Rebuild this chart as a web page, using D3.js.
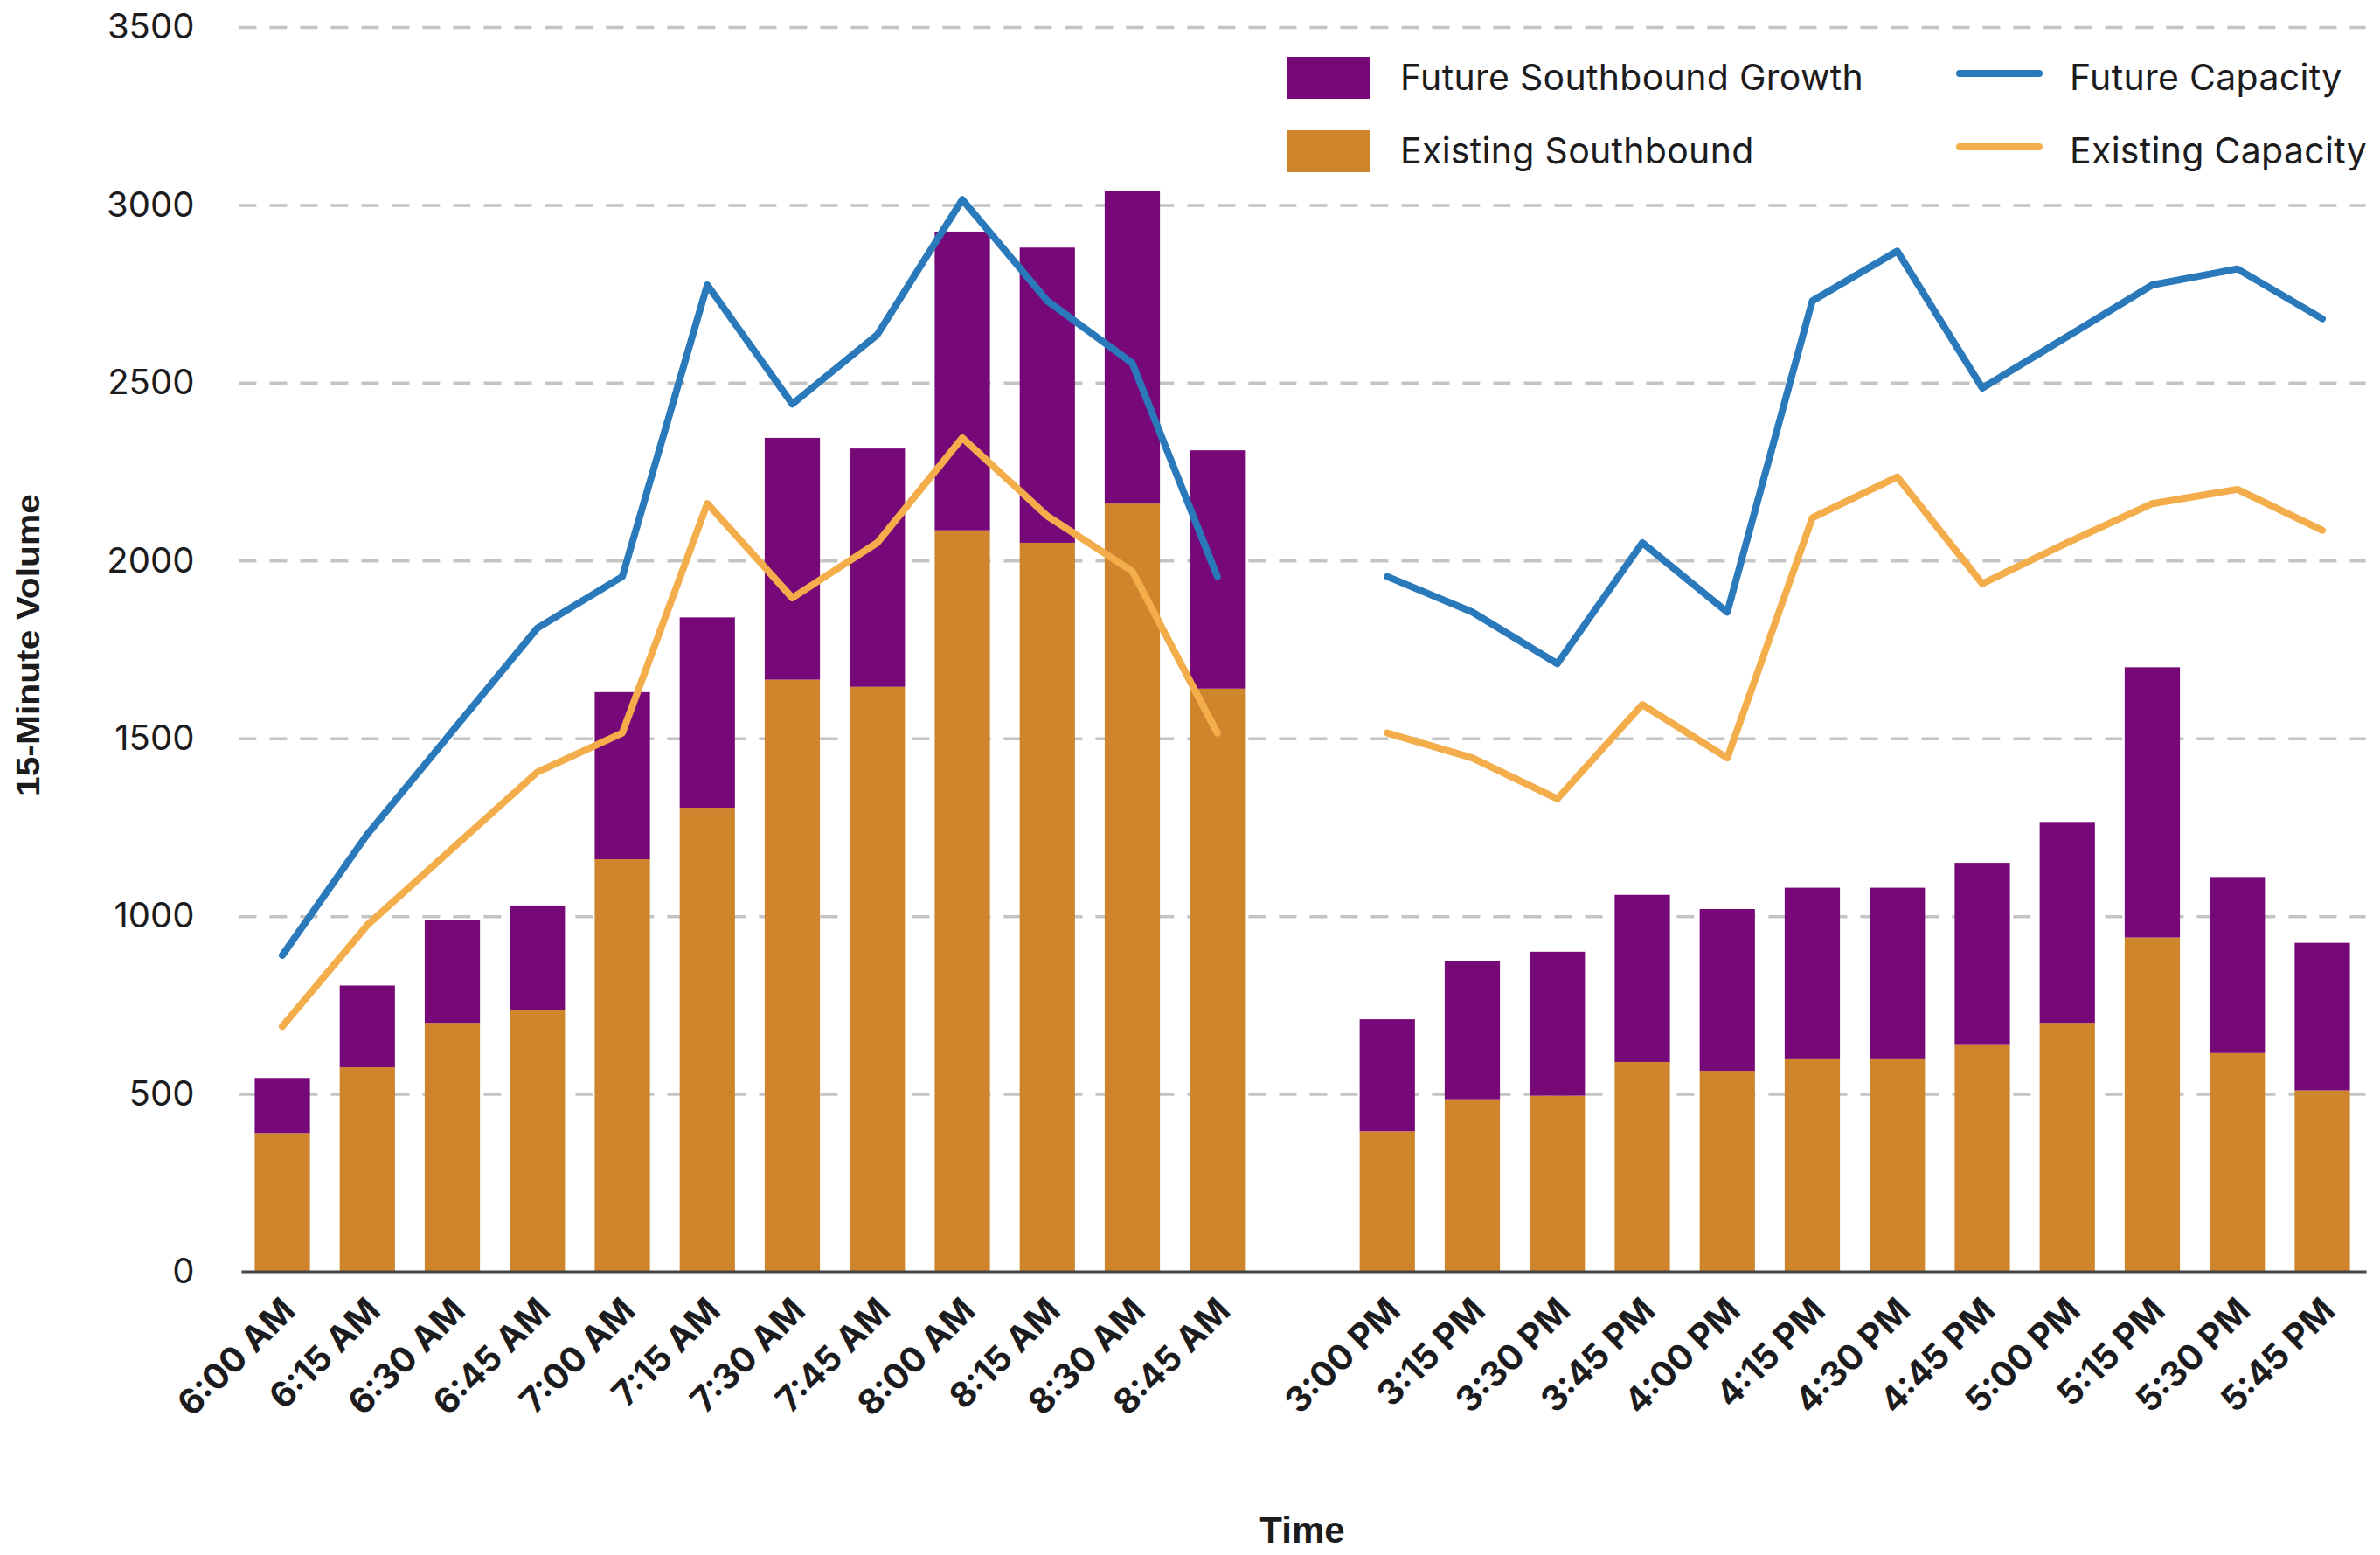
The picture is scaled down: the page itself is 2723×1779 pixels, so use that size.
<!DOCTYPE html>
<html>
<head>
<meta charset="utf-8">
<script src="https://cdn.jsdelivr.net/npm/d3@7"></script>
<style>
  html, body { margin: 0; padding: 0; background: #ffffff; }
  svg { display: block; }
</style>
</head>
<body>
<svg id="chart" width="2723" height="1779"></svg>
<script>
// 15-minute southbound volumes for the morning and evening peaks
const morningTimes = ["6:00 AM", "6:15 AM", "6:30 AM", "6:45 AM", "7:00 AM", "7:15 AM",
                      "7:30 AM", "7:45 AM", "8:00 AM", "8:15 AM", "8:30 AM", "8:45 AM"];
const eveningTimes = ["3:00 PM", "3:15 PM", "3:30 PM", "3:45 PM", "4:00 PM", "4:15 PM",
                      "4:30 PM", "4:45 PM", "5:00 PM", "5:15 PM", "5:30 PM", "5:45 PM"];

const existingMorning = [390, 575, 700, 735, 1160, 1305, 1665, 1645, 2085, 2050, 2160, 1640];
const growthMorning   = [155, 230, 290, 295, 470, 535, 680, 670, 840, 830, 880, 670];
const existingEvening = [395, 485, 495, 590, 565, 600, 600, 640, 700, 940, 615, 510];
const growthEvening   = [315, 390, 405, 470, 455, 480, 480, 510, 565, 760, 495, 415];

const futureCapMorning   = [890, 1230, 1520, 1810, 1955, 2775, 2440, 2635, 3015, 2730, 2555, 1955];
const existingCapMorning = [690, 975, 1190, 1405, 1515, 2160, 1895, 2050, 2345, 2125, 1970, 1515];
const futureCapEvening   = [1955, 1855, 1710, 2050, 1855, 2730, 2870, 2485, 2630, 2775, 2820, 2680];
const existingCapEvening = [1515, 1445, 1330, 1595, 1445, 2120, 2235, 1935, 2050, 2160, 2200, 2085];

const yTicks = [0, 500, 1000, 1500, 2000, 2500, 3000, 3500];

const barLegend  = ["Future Southbound Growth", "Existing Southbound"];
const lineLegend = ["Future Capacity", "Existing Capacity"];

// ---- styling ----
const COLORS = {
  growth: "#760878",
  existing: "#cf852b",
  futureCap: "#2a7abb",
  existingCap: "#f4ad4b",
  grid: "#c4c4c4",
  axis: "#444444",
  text: "#1c1c1e"
};
const TICK_FONT = "Inter, 'Open Sans', Lato, sans-serif";
const TITLE_FONT = "'Liberation Sans', Arial, sans-serif";

// ---- build rows ----
const GAP = "__gap__";
const slots = [...morningTimes, GAP, ...eveningTimes];

function rows(times, existing, growth, futureCap, existingCap, period) {
  return times.map((t, i) => ({
    time: t, period,
    existing: existing[i], growth: growth[i],
    futureCap: futureCap[i], existingCap: existingCap[i]
  }));
}
const data = [
  ...rows(morningTimes, existingMorning, growthMorning, futureCapMorning, existingCapMorning, "am"),
  ...rows(eveningTimes, existingEvening, growthEvening, futureCapEvening, existingCapEvening, "pm")
];

// ---- scales ----
const svg = d3.select("#chart");
const plotLeft = 274.4, plotRight = 2705.6;
const x = d3.scaleBand().domain(slots).range([plotLeft, plotRight])
  .paddingInner(0.35).paddingOuter(0.175);
const y = d3.scaleLinear().domain([0, 3500]).range([1455, 31]);
const cx = d => x(d.time) + x.bandwidth() / 2;

// ---- gridlines + y tick labels ----
const yAxis = svg.append("g")
  .attr("transform", `translate(${plotLeft - 1},0)`)
  .call(d3.axisLeft(y).tickValues(yTicks).tickFormat(d3.format("d"))
    .tickSize(-(plotRight - plotLeft + 2)).tickPadding(51));
yAxis.select(".domain").remove();
yAxis.selectAll(".tick line")
  .attr("stroke", COLORS.grid)
  .attr("stroke-width", 3.5)
  .attr("stroke-dasharray", "20 15")
  .attr("opacity", d => d === 0 ? 0 : 1);
yAxis.selectAll(".tick text")
  .attr("fill", COLORS.text)
  .attr("font-family", TICK_FONT)
  .attr("font-size", 40)
  .attr("font-weight", 400);

// ---- stacked bars ----
const stack = d3.stack().keys(["existing", "growth"]);
const layers = stack(data);
const barColor = { existing: COLORS.existing, growth: COLORS.growth };
svg.append("g").selectAll("g")
  .data(layers)
  .join("g")
  .attr("fill", l => barColor[l.key])
  .selectAll("rect")
  .data(l => l)
  .join("rect")
  .attr("x", d => x(d.data.time))
  .attr("width", x.bandwidth())
  .attr("y", d => y(d[1]))
  .attr("height", d => y(d[0]) - y(d[1]));

// ---- capacity lines (separate morning / evening segments) ----
const lineSeries = [
  { key: "futureCap", color: COLORS.futureCap },
  { key: "existingCap", color: COLORS.existingCap }
];
const lineGroup = svg.append("g");
lineSeries.forEach(s => {
  ["am", "pm"].forEach(p => {
    const seg = data.filter(d => d.period === p);
    lineGroup.append("path")
      .datum(seg)
      .attr("fill", "none")
      .attr("stroke", s.color)
      .attr("stroke-width", 8)
      .attr("stroke-linejoin", "round")
      .attr("stroke-linecap", "round")
      .attr("d", d3.line().x(cx).y(d => y(d[s.key])));
  });
});

// ---- x axis ----
const xAxis = svg.append("g")
  .attr("transform", `translate(0,${y(0)})`)
  .call(d3.axisBottom(x).tickValues([...morningTimes, ...eveningTimes]).tickSize(0));
xAxis.select(".domain").remove();
xAxis.append("line")
  .attr("x1", plotLeft + 2).attr("x2", plotRight + 2)
  .attr("y1", 0).attr("y2", 0)
  .attr("stroke", COLORS.axis).attr("stroke-width", 3);
xAxis.selectAll(".tick text")
  .attr("x", 0).attr("y", 0).attr("dy", 0)
  .attr("text-anchor", "end")
  .attr("transform", "translate(17,47) rotate(-45)")
  .attr("fill", COLORS.text)
  .attr("font-family", TICK_FONT)
  .attr("font-size", 40)
  .attr("font-weight", 700);

// ---- axis titles ----
svg.append("text")
  .attr("transform", "translate(45,738) rotate(-90)")
  .attr("text-anchor", "middle")
  .attr("font-family", TITLE_FONT)
  .attr("font-weight", 700)
  .attr("font-size", 37)
  .attr("textLength", 346)
  .attr("lengthAdjust", "spacingAndGlyphs")
  .attr("fill", COLORS.text)
  .text("15-Minute Volume");

svg.append("text")
  .attr("x", (plotLeft + plotRight) / 2)
  .attr("y", 1765)
  .attr("text-anchor", "middle")
  .attr("font-family", TITLE_FONT)
  .attr("font-weight", 700)
  .attr("font-size", 42)
  .attr("fill", COLORS.text)
  .text("Time");

// ---- legend ----
const legend = svg.append("g");
const rowY = [89, 173];
const barSwatch = [COLORS.growth, COLORS.existing];
const lineSwatch = [COLORS.futureCap, COLORS.existingCap];

barLegend.forEach((label, i) => {
  legend.append("rect")
    .attr("x", 1473).attr("y", rowY[i] - 24)
    .attr("width", 94).attr("height", 48)
    .attr("fill", barSwatch[i]);
  legend.append("text")
    .attr("x", 1602).attr("y", rowY[i] + 14)
    .attr("font-family", TICK_FONT).attr("font-size", 41)
    .attr("letter-spacing", 0.3)
    .attr("fill", COLORS.text)
    .text(label);
});
lineLegend.forEach((label, i) => {
  legend.append("line")
    .attr("x1", 2242).attr("x2", 2333)
    .attr("y1", rowY[i] - 5).attr("y2", rowY[i] - 5)
    .attr("stroke", lineSwatch[i]).attr("stroke-width", 8)
    .attr("stroke-linecap", "round");
  legend.append("text")
    .attr("x", 2368).attr("y", rowY[i] + 14)
    .attr("font-family", TICK_FONT).attr("font-size", 41)
    .attr("letter-spacing", 0.3)
    .attr("fill", COLORS.text)
    .text(label);
});
</script>
</body>
</html>
